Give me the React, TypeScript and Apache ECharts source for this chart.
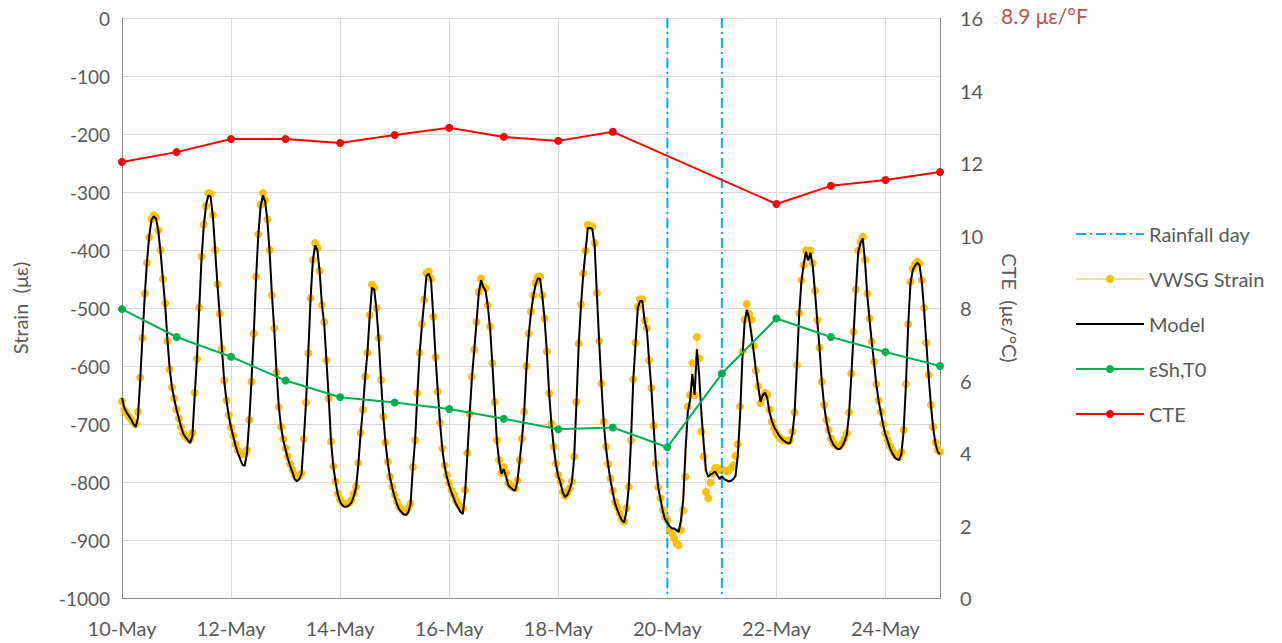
import React, { useEffect, useRef } from "react";
import * as echarts from "echarts";

// x values are days after 10-May (0 = 10-May 00:00)
const firstDayOfMay = 10;
const xTickLabelSuffix = "-May";

// Hourly VWSG strain readings (µε), 10-May 00:00 .. 25-May 00:00
const vwsgStrain: number[] = [
  // 10-May
  -661, -676, -681, -687, -692, -697, -700, -679, -620, -552, -475, -422, -378, -347, -340, -344, -366, -400, -450, -492, -557, -606, -637, -656,
  // 11-May
  -675, -690, -705, -717, -722, -725, -726, -715, -646, -588, -499, -411, -356, -324, -302, -303, -340, -400, -459, -510, -570, -625, -659, -685,
  // 12-May
  -706, -720, -735, -745, -750, -752, -752, -745, -693, -627, -544, -446, -373, -322, -302, -314, -347, -400, -478, -535, -611, -671, -705, -726,
  // 13-May
  -742, -756, -769, -779, -788, -792, -790, -785, -726, -663, -578, -483, -417, -388, -397, -436, -495, -524, -590, -656, -730, -773, -799, -820,
  // 14-May
  -830, -836, -838, -838, -836, -831, -820, -808, -767, -715, -675, -618, -577, -512, -460, -465, -500, -552, -624, -687, -732, -765, -791, -808,
  // 15-May
  -822, -834, -843, -847, -850, -851, -845, -837, -774, -728, -647, -577, -528, -486, -440, -437, -449, -515, -585, -644, -698, -742, -771, -788,
  // 16-May
  -802, -814, -822, -832, -838, -842, -845, -814, -750, -682, -618, -572, -524, -472, -449, -463, -466, -495, -532, -595, -662, -728, -762, -784,
  // 17-May
  -774, -785, -802, -806, -809, -811, -797, -762, -725, -679, -600, -544, -506, -478, -457, -446, -446, -478, -518, -575, -647, -699, -739, -768,
  // 18-May
  -788, -799, -817, -824, -818, -811, -799, -756, -662, -561, -494, -440, -401, -357, -359, -360, -388, -474, -557, -630, -696, -739, -769, -794,
  // 19-May
  -815, -834, -843, -854, -863, -868, -845, -808, -728, -623, -560, -498, -485, -485, -521, -535, -590, -638, -703, -768, -809, -828, -848, -860,
  // 20-May
  -866, -883, -888, -897, -906, -909, -883, -849, -791, -670, -650, -595, -650, -550, -587, -713, -756, -817, -828, -801, -785, -776, -776, -779,
  // 21-May
  -779, -780, -782, -780, -776, -771, -755, -735, -670, -575, -520, -493, -510, -520, -565, -608, -635, -664, -654, -646, -650, -675, -696, -707,
  // 22-May
  -716, -722, -726, -728, -729, -730, -728, -713, -680, -598, -509, -452, -426, -401, -410, -401, -423, -470, -521, -568, -627, -667, -693, -710,
  // 23-May
  -725, -733, -736, -739, -738, -733, -725, -716, -680, -613, -541, -468, -401, -386, -377, -417, -475, -518, -558, -593, -631, -659, -679, -700,
  // 24-May
  -716, -728, -738, -745, -752, -755, -756, -748, -710, -631, -528, -455, -432, -425, -420, -423, -452, -500, -560, -615, -667, -705, -732, -745,
  // 25-May 00:00
  -748,
];

// Hourly model strain (µε)
const modelStrain: number[] = [
  -655, -672, -680, -686, -692, -700, -705, -690, -625, -550, -480, -420, -375, -348, -342, -346, -368, -405, -450, -495, -555, -605, -637, -657,
  -675, -690, -705, -717, -723, -728, -733, -720, -650, -585, -500, -415, -358, -322, -306, -308, -342, -400, -460, -512, -572, -627, -660, -686,
  -706, -722, -738, -750, -760, -770, -772, -750, -695, -625, -545, -448, -373, -325, -306, -316, -350, -405, -478, -537, -610, -670, -705, -728,
  -745, -760, -772, -783, -795, -799, -795, -786, -728, -662, -576, -483, -418, -392, -400, -438, -495, -528, -592, -656, -730, -773, -800, -822,
  -834, -840, -843, -842, -840, -835, -825, -810, -770, -718, -675, -620, -578, -515, -465, -468, -503, -555, -625, -688, -734, -768, -793, -811,
  -826, -838, -847, -852, -856, -857, -852, -838, -776, -728, -648, -578, -530, -488, -444, -441, -452, -515, -585, -645, -700, -744, -773, -792,
  -806, -818, -828, -838, -845, -852, -855, -820, -752, -684, -620, -574, -526, -475, -452, -464, -470, -497, -535, -597, -664, -730, -765, -786,
  -778, -790, -805, -810, -813, -815, -800, -764, -727, -680, -602, -546, -508, -480, -460, -449, -450, -480, -520, -577, -648, -700, -740, -770,
  -790, -802, -818, -826, -822, -813, -800, -758, -664, -563, -496, -442, -403, -362, -362, -364, -392, -476, -558, -632, -698, -741, -772, -797,
  -818, -837, -848, -858, -866, -870, -850, -810, -730, -625, -562, -500, -488, -488, -522, -538, -592, -640, -705, -770, -810, -830, -850, -865,
  -870, -876, -880, -880, -883, -886, -866, -830, -745, -680, -659, -614, -650, -571, -616, -682, -733, -780, -791, -787, -785, -782, -788, -795,
  -790, -795, -797, -799, -798, -795, -790, -755, -687, -590, -525, -503, -518, -545, -575, -608, -635, -662, -650, -646, -656, -680, -695, -705,
  -712, -719, -724, -728, -731, -733, -733, -718, -682, -600, -512, -455, -425, -403, -418, -405, -428, -473, -523, -570, -628, -668, -695, -713,
  -727, -735, -740, -743, -743, -738, -730, -718, -682, -615, -543, -470, -404, -388, -380, -420, -478, -520, -560, -595, -633, -661, -681, -702,
  -718, -730, -742, -750, -757, -761, -762, -752, -712, -633, -530, -458, -435, -427, -422, -426, -455, -503, -562, -617, -668, -707, -734, -748,
  -752,
];

// Daily shrinkage / T0 strain (µε)
const shDays: number[] = [0, 1, 2, 3, 4, 5, 6, 7, 8, 9, 10, 11, 12, 13, 14, 15];
const shValues: number[] = [-502, -550, -584, -625, -654, -663, -674, -691, -709, -706, -740, -613, -518, -550, -576, -600];

// CTE (µε/°C)
const cteDays: number[] = [0, 1, 2, 3, 4, 5, 6, 7, 8, 9, 12, 13, 14, 15];
const cteValues: number[] = [12.03, 12.3, 12.66, 12.66, 12.55, 12.77, 12.97, 12.72, 12.61, 12.86, 10.87, 11.37, 11.53, 11.75];

// Rainfall days
const rainfallDays: number[] = [10, 11];

const FONT = "Lato, 'Open Sans', sans-serif";
const GRAY = "#595959";

export default function App() {
  const ref = useRef<HTMLDivElement>(null);

  useEffect(() => {
    if (!ref.current) return;
    const chart = echarts.init(ref.current, null, { renderer: "svg" });
    const hourly = (arr: number[]) => arr.map((v, i) => [i / 24, v]);

    const rainfallSeries = rainfallDays.map((d) => ({
      name: "Rainfall day",
      type: "line",
      yAxisIndex: 0,
      data: [
        [d, 0],
        [d, -1000],
      ],
      symbol: "none",
      itemStyle: { color: "#00b0f0", opacity: 0 },
      lineStyle: { color: "#00b0f0", width: 2, type: [10, 4, 2, 4] },
      z: 3,
    }));

    chart.setOption({
      animation: false,
      textStyle: { fontFamily: FONT },
      grid: { left: 122, right: 342, top: 18, bottom: 45, containLabel: false },
      legend: {
        orient: "vertical",
        left: 1070,
        top: 219,
        itemWidth: 68,
        itemHeight: 10,
        itemGap: 25,
        textStyle: { fontSize: 20, color: GRAY, fontFamily: FONT },
        data: [
          { name: "Rainfall day", itemStyle: { opacity: 0 } },
          { name: "VWSG Strain" },
          { name: "Model", itemStyle: { opacity: 0 } },
          { name: "εSh,T0" },
          { name: "CTE" },
        ],
      },
      xAxis: {
        type: "value",
        min: 0,
        max: 15,
        interval: 2,
        axisLine: { onZero: false, lineStyle: { color: "#8c8c8c", width: 1 } },
        axisTick: { show: false },
        splitLine: { show: true, lineStyle: { color: "#d9d9d9", width: 1 } },
        axisLabel: {
          formatter: (v: number) => `${firstDayOfMay + v}${xTickLabelSuffix}`,
          fontSize: 20,
          color: GRAY,
          margin: 20,
          fontFamily: FONT,
          showMaxLabel: false,
        },
      },
      yAxis: [
        {
          type: "value",
          min: -1000,
          max: 0,
          interval: 100,
          name: "Strain  (με)",
          nameLocation: "middle",
          nameRotate: 90,
          nameGap: 92,
          nameTextStyle: { fontSize: 20, color: GRAY, fontFamily: FONT },
          axisLine: { show: true, lineStyle: { color: "#8c8c8c", width: 1 } },
          axisTick: { show: false },
          splitLine: { show: true, lineStyle: { color: "#d9d9d9", width: 1 } },
          axisLabel: {
            fontSize: 19,
            color: GRAY,
            margin: 12,
            fontFamily: FONT,
            formatter: (v: number) => String(v),
          },
        },
        {
          type: "value",
          min: 0,
          max: 16,
          interval: 2,
          position: "right",
          name: "CTE  (με/°C)",
          nameLocation: "middle",
          nameRotate: -90,
          nameGap: 60,
          nameTextStyle: { fontSize: 20, color: GRAY, fontFamily: FONT },
          axisLine: { show: true, lineStyle: { color: "#8c8c8c", width: 1 } },
          axisTick: { show: false },
          splitLine: { show: false },
          axisLabel: { fontSize: 20, color: GRAY, margin: 20, fontFamily: FONT },
        },
      ],
      graphic: [
        {
          type: "text",
          left: 1001,
          top: 5,
          style: { text: "8.9 με/°F", fill: "#c0504d", fontSize: 21, fontFamily: FONT },
        },
      ],
      series: [
        ...rainfallSeries,
        {
          name: "VWSG Strain",
          type: "line",
          yAxisIndex: 0,
          data: hourly(vwsgStrain),
          symbol: "circle",
          symbolSize: 8,
          showAllSymbol: true,
          itemStyle: { color: "#ffc000" },
          lineStyle: { color: "#ffe08a", width: 1 },
          z: 2,
        },
        {
          name: "Model",
          type: "line",
          yAxisIndex: 0,
          data: hourly(modelStrain),
          symbol: "none",
          itemStyle: { color: "#000000", opacity: 0 },
          lineStyle: { color: "#000000", width: 2 },
          z: 3,
        },
        {
          name: "εSh,T0",
          type: "line",
          yAxisIndex: 0,
          data: shDays.map((d, i) => [d, shValues[i]]),
          symbol: "circle",
          symbolSize: 8,
          itemStyle: { color: "#00b050" },
          lineStyle: { color: "#00b050", width: 2 },
          z: 4,
        },
        {
          name: "CTE",
          type: "line",
          yAxisIndex: 1,
          data: cteDays.map((d, i) => [d, cteValues[i]]),
          symbol: "circle",
          symbolSize: 8,
          itemStyle: { color: "#ff0000" },
          lineStyle: { color: "#ff0000", width: 2 },
          z: 4,
        },
      ],
    });

    return () => chart.dispose();
  }, []);

  return (
    <div
      ref={ref}
      style={{ position: "absolute", left: 0, top: 0, width: 1282, height: 643, background: "#ffffff" }}
    />
  );
}
